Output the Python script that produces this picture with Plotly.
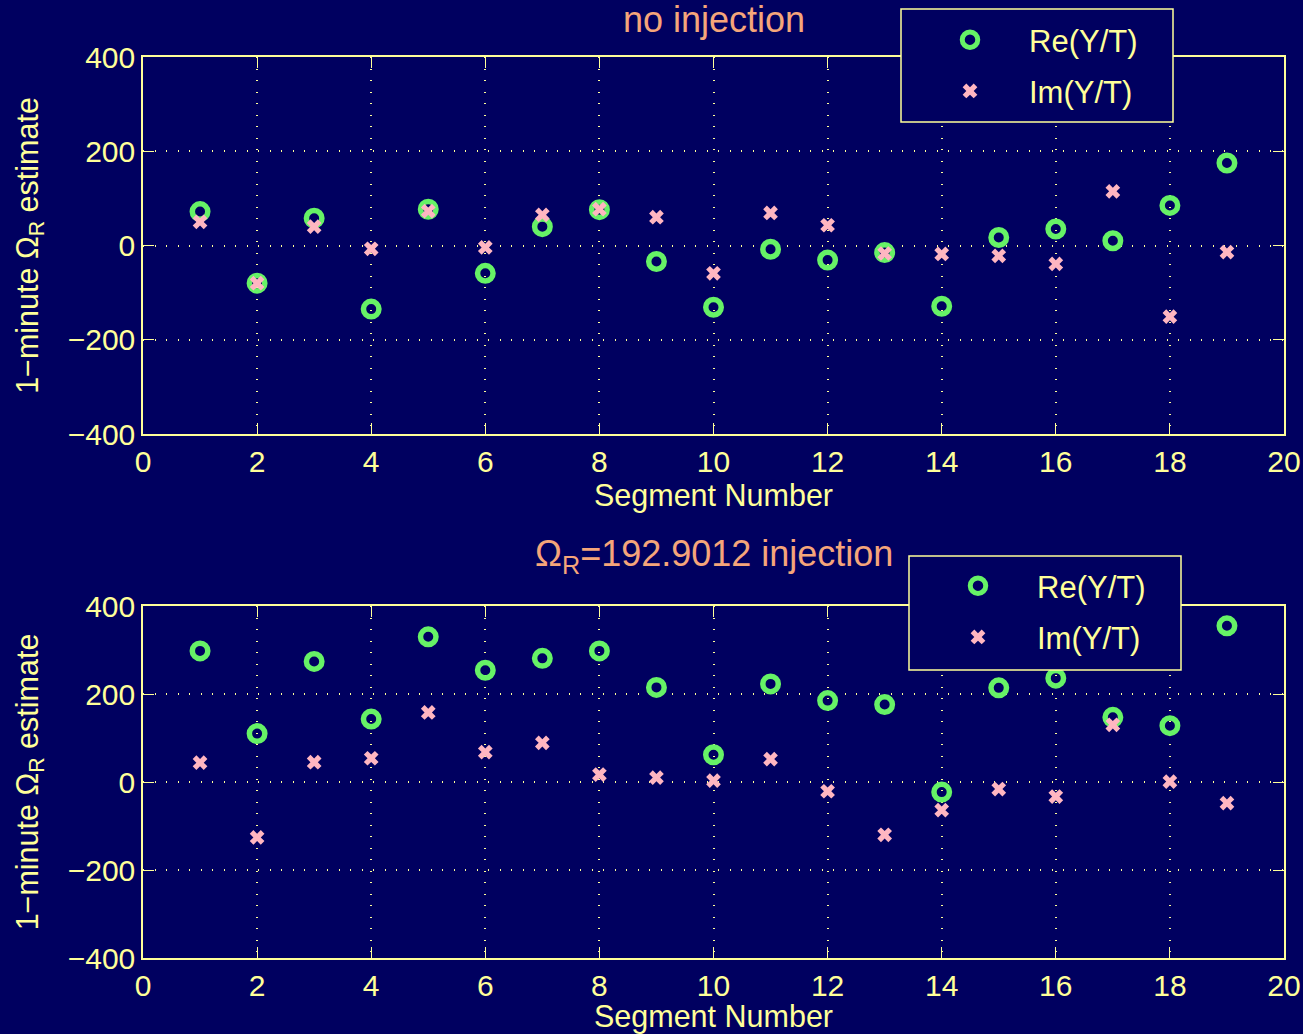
import plotly.graph_objects as go

# Segment indices and the two sets of 1-minute Omega_R estimates
segments = list(range(1, 20))

# no injection
re_noinj = [72, -80, 58, -135, 77, -59, 40, 76, -34, -131, -8, -31, -15, -129, 17, 35, 10, 85, 175]
im_noinj = [50, -80, 40, -7, 73, -4, 65, 77, 60, -59, 69, 43, -17, -18, -22, -39, 115, -151, -14]

# Omega_R = 192.9012 injection
re_inj = [298, 110, 274, 143, 330, 254, 281, 298, 215, 62, 223, 185, 176, -23, 214, 236, 147, 128, 355]
im_inj = [44, -126, 45, 54, 158, 68, 89, 17, 10, 3, 52, -21, -120, -64, -16, -33, 130, 1, -48]

x_ticks = [0, 2, 4, 6, 8, 10, 12, 14, 16, 18, 20]
y_ticks = [-400, -200, 0, 200, 400]

BG = "#000060"
FG = "#FFFF99"
GREEN = "#66F266"
PINK = "#FFB6C1"
TITLE = "#F5A57A"
FONT = "Liberation Sans"
W, H = 1303, 1034

fig = go.Figure()

def add_pair(re, im, xa, ya, legend):
    fig.add_trace(go.Scatter(
        x=segments, y=re, mode="markers", name="Re(Y/T)", xaxis=xa, yaxis=ya,
        legend=legend, legendgroup="re_" + legend,
        marker=dict(symbol="circle-open", size=15.5, color=GREEN, line=dict(width=5.5, color=GREEN)),
    ))
    fig.add_trace(go.Scatter(
        x=segments, y=im, mode="markers", name="Im(Y/T)", xaxis=xa, yaxis=ya,
        legend=legend, legendgroup="im_" + legend,
        marker=dict(symbol="x", size=13, color=PINK, line=dict(width=0)),
    ))

add_pair(re_noinj, im_noinj, "x", "y", "legend")
add_pair(re_inj, im_inj, "x2", "y2", "legend2")

x_dom = [143 / W, 1284 / W]
top_dom = [1 - 434 / H, 1 - 57 / H]
bot_dom = [1 - 958 / H, 1 - 606 / H]

GRID_DASH = "1px,10.5px"

def xaxis(anchor):
    return dict(
        domain=x_dom, anchor=anchor, range=[0, 20], tickvals=x_ticks,
        automargin=False,
        showline=True, linecolor=FG, linewidth=1.5, mirror="allticks",
        ticks="inside", ticklen=11, tickcolor=FG, tickwidth=1,
        showgrid=True, gridcolor=FG, griddash=GRID_DASH, gridwidth=1.5,
        zeroline=False, tickfont=dict(color=FG, size=30, family=FONT),
        title=dict(text="Segment Number", font=dict(color=FG, size=30.5, family=FONT), standoff=4),
    )

def yaxis(anchor, dom):
    return dict(
        domain=dom, anchor=anchor, range=[-400, 400], tickvals=y_ticks,
        ticktext=[("\u2212" + str(-v)) if v < 0 else str(v) for v in y_ticks],
        automargin=False,
        showline=True, linecolor=FG, linewidth=1.5, mirror="allticks",
        ticks="inside", ticklen=11, tickcolor=FG, tickwidth=1,
        showgrid=True, gridcolor=FG, griddash=GRID_DASH, gridwidth=1.5,
        zeroline=False, tickfont=dict(color=FG, size=30, family=FONT),
        title=dict(text="1\u2212minute \u03a9<sub>R</sub> estimate",
                   font=dict(color=FG, size=30.5, family=FONT), standoff=20),
    )

# Legend entries float on transparent backgrounds over framed boxes drawn as shapes
legend_style = dict(
    bgcolor="rgba(0,0,0,0)", borderwidth=0,
    font=dict(color=FG, size=31, family=FONT),
    xanchor="left", yanchor="top", itemwidth=108, tracegroupgap=8,
)

def legend_box(x0, y0, x1, y1):
    return dict(type="rect", xref="paper", yref="paper", layer="above",
                x0=x0 / W, x1=x1 / W, y0=1 - y1 / H, y1=1 - y0 / H,
                fillcolor=BG, line=dict(color=FG, width=1.5))

fig.update_layout(
    width=W, height=H,
    paper_bgcolor=BG, plot_bgcolor=BG,
    margin=dict(l=0, r=0, t=0, b=0, autoexpand=False),
    showlegend=True,
    xaxis=xaxis("y"), yaxis=yaxis("x", top_dom),
    xaxis2=xaxis("y2"), yaxis2=yaxis("x2", bot_dom),
    legend=dict(x=911 / W, y=1 - 13 / H, **legend_style),
    legend2=dict(x=919 / W, y=1 - 559 / H, **legend_style),
    shapes=[legend_box(901, 9, 1173, 122), legend_box(909, 556, 1181, 670)],
    annotations=[
        dict(text="no injection", x=714 / W, y=1 - 20 / H, xref="paper", yref="paper",
             showarrow=False, xanchor="center", yanchor="middle",
             font=dict(color=TITLE, size=36, family=FONT)),
        dict(text="\u03a9<sub>R</sub>=192.9012 injection", x=714 / W, y=1 - 556 / H,
             xref="paper", yref="paper", showarrow=False, xanchor="center", yanchor="middle",
             font=dict(color=TITLE, size=36, family=FONT)),
    ],
)

fig.write_html("out.html")
